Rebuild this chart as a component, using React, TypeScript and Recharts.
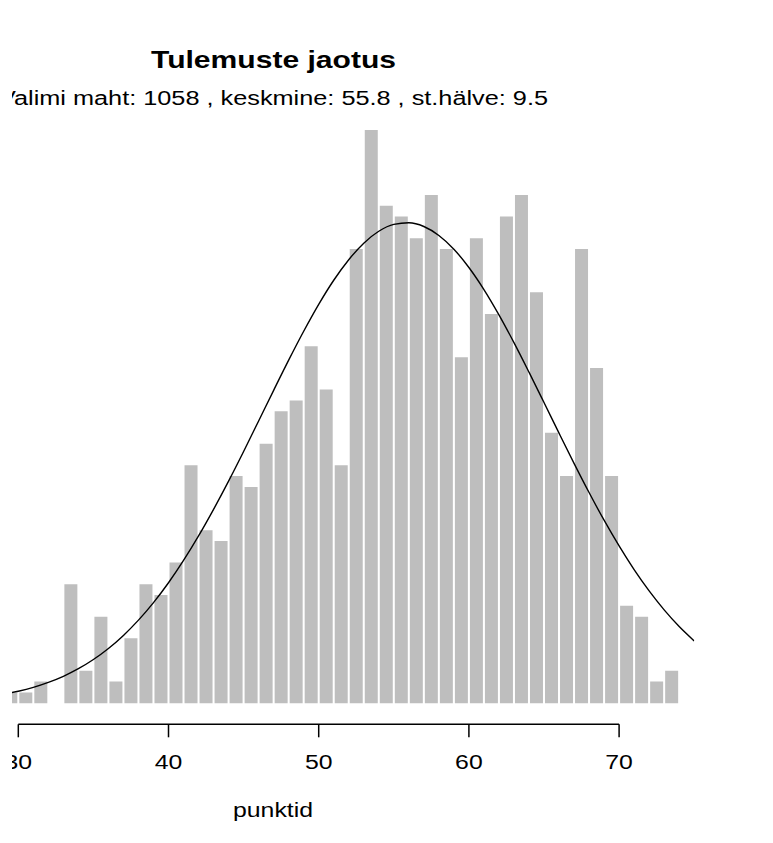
import React from 'react';
import { ComposedChart, Bar, Line, XAxis, YAxis, ReferenceLine } from 'recharts';

// Histogram bins (left edge of each 1-point bin) and counts
const binStarts = [29, 30, 31, 32, 33, 34, 35, 36, 37, 38, 39, 40, 41, 42, 43, 44, 45, 46, 47, 48, 49, 50, 51, 52, 53, 54, 55, 56, 57, 58, 59, 60, 61, 62, 63, 64, 65, 66, 67, 68, 69, 70, 71, 72, 73];
const binCounts = [1, 1, 2, 0, 11, 3, 8, 2, 6, 11, 10, 13, 22, 16, 15, 21, 20, 24, 27, 28, 33, 29, 22, 42, 53, 46, 45, 43, 47, 42, 32, 43, 36, 45, 47, 38, 25, 21, 42, 31, 21, 9, 8, 2, 3];

// Fitted curve (x in points, y in counts)
const curveX = [29.5, 30, 31, 32, 33, 34, 35, 36, 37, 38, 39, 40, 41, 42, 43, 44, 45, 46, 47, 48, 49, 50, 51, 52, 53, 54, 55, 56, 57, 58, 59, 60, 61, 62, 63, 64, 65, 66, 67, 68, 69, 70, 71, 72, 73, 74, 75];
const curveY = [0.96, 1.11, 1.47, 1.93, 2.49, 3.19, 4.04, 5.06, 6.27, 7.68, 9.3, 11.14, 13.2, 15.47, 17.93, 20.54, 23.28, 26.1, 28.93, 31.72, 34.39, 36.88, 39.11, 41.01, 42.54, 43.64, 44.27, 44.42, 44.08, 43.25, 41.98, 40.29, 38.25, 35.91, 33.34, 30.61, 27.8, 24.97, 22.18, 19.48, 16.92, 14.54, 12.35, 10.38, 8.63, 7.09, 5.76];

const xTicks = [30, 40, 50, 60, 70];
const titleText = 'Tulemuste jaotus';
const subtitleText = 'Valimi maht: 1058 , keskmine: 55.8 , st.hälve: 9.5';
const xLabelText = 'punktid';

const barData = binStarts.map((s, i) => ({ mid: s + 0.5, n: binCounts[i] }));
const curveData = curveX.map((x, i) => ({ x, y: curveY[i] }));

const FONT = '"Liberation Sans", Arial, Helvetica, sans-serif';
const X_DOMAIN: [number, number] = [29.58, 75];
const Y_MIN = -1.951;
const Y_DOMAIN: [number, number] = [Y_MIN, 55];

const renderTick = (props: any) => {
  const { x, payload } = props;
  return (
    <text
      x={x}
      y={769}
      textAnchor="middle"
      fontFamily={FONT}
      fontSize={19.5}
      fill="#000"
      textLength={27.6}
      lengthAdjust="spacingAndGlyphs"
    >
      {String(payload.value)}
    </text>
  );
};

export default function App() {
  return (
    <div style={{ position: 'absolute', left: 0, top: 0, width: 773, height: 843, background: '#fff' }}>
      <div style={{ position: 'absolute', left: 12, top: 0, width: 761, height: 843, overflow: 'hidden' }}>
        <div style={{ position: 'absolute', left: -12, top: 0, width: 773, height: 843 }}>
          <ComposedChart
            width={773}
            height={843}
            data={barData}
            margin={{ top: 108.4, right: 78.8, bottom: 78.7, left: 12 }}
          >
            <XAxis
              xAxisId="bins"
              dataKey="mid"
              type="number"
              domain={X_DOMAIN}
              allowDataOverflow
              ticks={xTicks}
              interval={0}
              axisLine={false}
              tickLine={{ stroke: '#000', strokeWidth: 1.5 }}
              tickSize={13}
              tick={renderTick}
              height={40}
            />
            <XAxis
              xAxisId="curve"
              dataKey="x"
              type="number"
              domain={X_DOMAIN}
              allowDataOverflow
              hide
            />
            <YAxis domain={Y_DOMAIN} allowDataOverflow hide />
            <Bar
              xAxisId="bins"
              dataKey="n"
              fill="#BEBEBE"
              barSize={13}
              isAnimationActive={false}
            />
            <Line
              xAxisId="curve"
              data={curveData}
              dataKey="y"
              type="monotone"
              stroke="#000"
              strokeWidth={1.4}
              dot={false}
              activeDot={false}
              isAnimationActive={false}
            />
            <ReferenceLine
              xAxisId="bins"
              segment={[{ x: 30, y: Y_MIN }, { x: 70, y: Y_MIN }]}
              stroke="#000"
              strokeWidth={1.5}
              ifOverflow="visible"
            />
          </ComposedChart>
          <svg
            width={773}
            height={843}
            style={{ position: 'absolute', left: 0, top: 0, pointerEvents: 'none' }}
          >
            <text
              x={273.5}
              y={68}
              textAnchor="middle"
              fontFamily={FONT}
              fontWeight="bold"
              fontSize={23.4}
              fill="#000"
              textLength={245}
              lengthAdjust="spacingAndGlyphs"
            >
              {titleText}
            </text>
            <text
              x={273.5}
              y={104.7}
              textAnchor="middle"
              fontFamily={FONT}
              fontSize={19.5}
              fill="#000"
              textLength={549}
              lengthAdjust="spacingAndGlyphs"
            >
              {subtitleText}
            </text>
            <text
              x={273}
              y={817}
              textAnchor="middle"
              fontFamily={FONT}
              fontSize={19.5}
              fill="#000"
              textLength={80}
              lengthAdjust="spacingAndGlyphs"
            >
              {xLabelText}
            </text>
          </svg>
        </div>
      </div>
    </div>
  );
}
